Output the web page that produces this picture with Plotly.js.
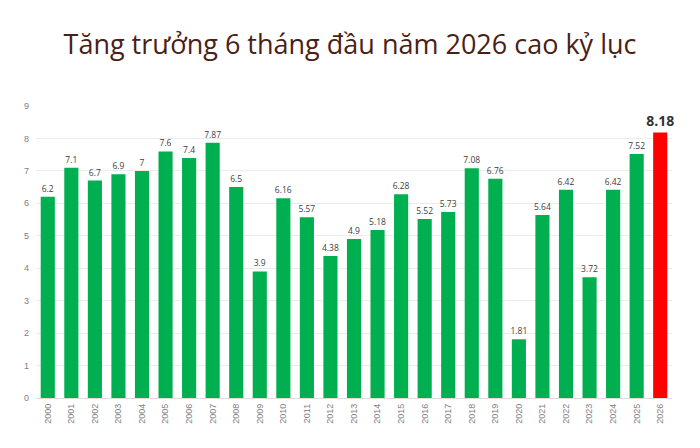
<!DOCTYPE html>
<html><head><meta charset="utf-8">
<script src="https://cdn.plot.ly/plotly-3.0.1.min.js"></script>
<style>html,body{margin:0;padding:0;background:#fff;}#chart{width:700px;height:448px;}</style>
</head><body><div id="chart"></div>
<script>
const years = ["2000","2001","2002","2003","2004","2005","2006","2007","2008","2009","2010","2011","2012","2013","2014","2015","2016","2017","2018","2019","2020","2021","2022","2023","2024","2025","2026"];
const growth = [6.2,7.1,6.7,6.9,7,7.6,7.4,7.87,6.5,3.9,6.16,5.57,4.38,4.9,5.18,6.28,5.52,5.73,7.08,6.76,1.81,5.64,6.42,3.72,6.42,7.52,8.18];
const highlightYear = "2026";
const titleText = "Tăng trưởng 6 tháng đầu năm 2026 cao kỷ lục";

const colors = years.map(y => y === highlightYear ? "#ff0000" : "#00b050");
const labels = growth.map((v,i) => years[i] === highlightYear ? "<b>" + v + "</b>" : String(v));
const sizes = years.map(y => y === highlightYear ? 14 : 8.5);
const fcolors = years.map(y => y === highlightYear ? "#333333" : "#404040");

Plotly.newPlot("chart", [{
  type: "bar",
  x: years,
  y: growth,
  marker: {color: colors},
  text: labels,
  textposition: "outside",
  constraintext: "none",
  cliponaxis: false,
  textfont: {family: "Open Sans, sans-serif", size: sizes, color: fcolors},
  outsidetextfont: {family: "Open Sans, sans-serif", size: sizes, color: fcolors},
  hoverinfo: "x+y"
}], {
  width: 700, height: 448,
  margin: {l: 36, r: 28, t: 106, b: 50},
  paper_bgcolor: "#ffffff", plot_bgcolor: "#ffffff",
  bargap: 0.4,
  title: {text: titleText, x: 0.5, xanchor: "center", y: 0.9, yanchor: "middle",
          font: {family: "Open Sans, sans-serif", size: 27, color: "#4a1f16"}},
  xaxis: {type: "category", tickangle: -90, tickfont: {family: "Liberation Sans, Arial, sans-serif", size: 9, color: "#808080"},
          showline: false, ticks: "", showgrid: false, ticklabelstandoff: 3},
  yaxis: {range: [0, 9], dtick: 1, tickfont: {family: "Liberation Sans, Arial, sans-serif", size: 9, color: "#808080"},
          gridcolor: "#ececec", gridwidth: 1, zeroline: true, zerolinecolor: "#dddddd", ticks: "", ticklabelstandoff: 6},
  showlegend: false
}, {displayModeBar: false, staticPlot: true});
</script></body></html>
